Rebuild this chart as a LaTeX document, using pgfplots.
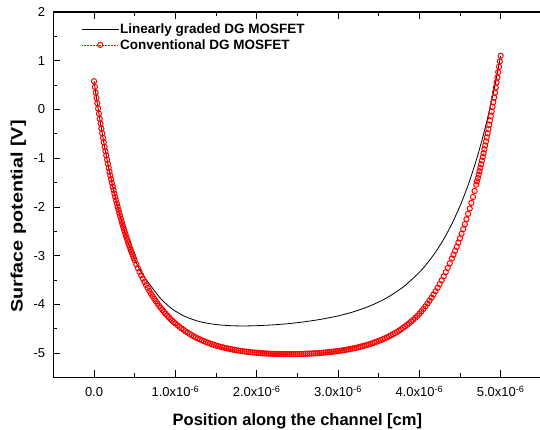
\documentclass[border=0pt]{standalone}
\usepackage{pgfplots}
\pgfplotsset{compat=1.18}
\usepackage{fontspec}
\setmainfont{Liberation Sans}
\begin{document}
\begin{tikzpicture}
\begin{axis}[
  scale only axis,
  width=487.9pt, height=365.5pt,
  xmin=-0.5, xmax=5.5, ymin=-5.5, ymax=2,
  axis line style={line width=1.3pt},
  tick style={black, line width=0.8pt},
  tick align=inside,
  major tick length=7pt, minor tick length=4pt,
  xtick pos=both, ytick pos=left,
  xtick={0,1,2,3,4,5},
  xticklabels={0.0, 1.0x10\textsuperscript{-6}, 2.0x10\textsuperscript{-6}, 3.0x10\textsuperscript{-6}, 4.0x10\textsuperscript{-6}, 5.0x10\textsuperscript{-6}},
  minor x tick num=1,
  ytick={-5,-4,-3,-2,-1,0,1,2},
  yticklabels={-5,-4,-3,-2,-1,0,1,2},
  minor y tick num=1,
  xticklabel style={font=\fontsize{13}{13}\selectfont, anchor=base, inner sep=0pt, yshift=-19pt},
  yticklabel style={font=\fontsize{13}{13}\selectfont, anchor=east, inner sep=0pt, xshift=-8pt},
  every axis x label/.style={at={(axis description cs:0.5,-0.131)}, anchor=base, font=\bfseries\fontsize{16.5}{16.5}\selectfont},
  every axis y label/.style={at={(axis description cs:-0.0633,0.4405)}, anchor=base, rotate=90, font=\bfseries\fontsize{16.5}{16.5}\selectfont},
  xlabel={Position along the channel [cm]},
  ylabel={\scalebox{1.2}[1]{Surface potential [V]}},
  legend style={at={(axis description cs:0.058,0.972)}, anchor=north west, draw=none, fill=none, inner sep=0pt, row sep=1pt, font=\bfseries\fontsize{13.5}{13.5}\selectfont, nodes={inner sep=1.5pt}},
  legend cell align=left,
  legend image code/.code={\draw[mark repeat=2,mark phase=2,#1] plot coordinates {(0pt,0pt) (18pt,0pt) (36pt,0pt)};},
]
\addplot[black, line width=0.8pt, smooth] coordinates {
(0.00,0.580) (0.02,0.348) (0.04,0.126) (0.06,-0.087) (0.08,-0.292) (0.10,-0.488)
(0.12,-0.676) (0.14,-0.857) (0.16,-1.030) (0.18,-1.196) (0.20,-1.356) (0.22,-1.508)
(0.24,-1.655) (0.26,-1.795) (0.28,-1.930) (0.30,-2.060) (0.32,-2.184) (0.34,-2.303)
(0.36,-2.417) (0.38,-2.526) (0.40,-2.631) (0.42,-2.732) (0.44,-2.829) (0.45,-2.876)
(0.50,-3.081) (0.55,-3.248) (0.60,-3.390) (0.65,-3.513) (0.70,-3.624) (0.75,-3.736)
(0.80,-3.843) (0.85,-3.935) (0.90,-4.010) (0.95,-4.080) (1.00,-4.138) (1.10,-4.233)
(1.20,-4.302) (1.30,-4.353) (1.40,-4.389) (1.50,-4.413) (1.60,-4.429) (1.70,-4.438)
(1.80,-4.442) (1.90,-4.441) (2.00,-4.437) (2.20,-4.420) (2.40,-4.393) (2.60,-4.354)
(2.80,-4.303) (3.00,-4.236) (3.20,-4.147) (3.40,-4.027) (3.60,-3.865) (3.80,-3.645)
(4.00,-3.342) (4.10,-3.150) (4.20,-2.925) (4.30,-2.661) (4.40,-2.349) (4.50,-1.983)
(4.55,-1.775) (4.60,-1.551) (4.65,-1.307) (4.70,-1.042) (4.75,-0.754) (4.80,-0.442)
(4.85,-0.103) (4.90,0.266) (4.95,0.666) (5.00,1.100)
};
\addlegendentry{Linearly graded DG MOSFET}
\addplot[red, densely dotted, line width=0.5pt, mark=o, mark size=2.6pt, mark options={solid, line width=1pt}] coordinates {
(0.00,0.580) (0.01,0.463) (0.02,0.348) (0.03,0.236) (0.04,0.126) (0.05,0.018)
(0.06,-0.087) (0.07,-0.191) (0.08,-0.292) (0.09,-0.391) (0.10,-0.488) (0.11,-0.583)
(0.12,-0.676) (0.13,-0.768) (0.14,-0.857) (0.15,-0.944) (0.16,-1.030) (0.17,-1.114)
(0.18,-1.196) (0.19,-1.277) (0.20,-1.356) (0.21,-1.433) (0.22,-1.508) (0.23,-1.582)
(0.24,-1.655) (0.25,-1.726) (0.26,-1.795) (0.27,-1.864) (0.28,-1.930) (0.29,-1.996)
(0.30,-2.060) (0.31,-2.122) (0.32,-2.184) (0.33,-2.244) (0.34,-2.303) (0.35,-2.360)
(0.36,-2.417) (0.37,-2.472) (0.38,-2.526) (0.39,-2.580) (0.40,-2.631) (0.41,-2.682)
(0.42,-2.732) (0.43,-2.781) (0.44,-2.829) (0.45,-2.876) (0.46,-2.922) (0.47,-2.966)
(0.48,-3.010) (0.49,-3.054) (0.50,-3.096) (0.52,-3.178) (0.54,-3.256) (0.56,-3.331)
(0.58,-3.403) (0.60,-3.473) (0.62,-3.539) (0.64,-3.603) (0.66,-3.664) (0.68,-3.722)
(0.70,-3.779) (0.72,-3.833) (0.74,-3.884) (0.76,-3.934) (0.78,-3.982) (0.80,-4.027)
(0.82,-4.071) (0.84,-4.113) (0.86,-4.153) (0.88,-4.192) (0.90,-4.229) (0.92,-4.264)
(0.94,-4.299) (0.96,-4.331) (0.98,-4.363) (1.000,-4.390) (1.025,-4.426) (1.050,-4.460)
(1.075,-4.491) (1.100,-4.522) (1.125,-4.551) (1.150,-4.579) (1.175,-4.605) (1.200,-4.630)
(1.225,-4.653) (1.250,-4.675) (1.275,-4.696) (1.300,-4.716) (1.325,-4.735) (1.350,-4.753)
(1.375,-4.770) (1.400,-4.787) (1.425,-4.802) (1.450,-4.816) (1.475,-4.830) (1.500,-4.843)
(1.525,-4.855) (1.550,-4.867) (1.575,-4.878) (1.600,-4.888) (1.625,-4.898) (1.650,-4.907)
(1.675,-4.916) (1.700,-4.925) (1.725,-4.933) (1.750,-4.940) (1.775,-4.947) (1.800,-4.953)
(1.825,-4.959) (1.850,-4.965) (1.875,-4.971) (1.900,-4.976) (1.925,-4.981) (1.950,-4.985)
(1.975,-4.989) (2.000,-4.993) (2.025,-4.996) (2.050,-4.999) (2.075,-5.002) (2.100,-5.005)
(2.125,-5.008) (2.150,-5.010) (2.175,-5.012) (2.200,-5.014) (2.225,-5.015) (2.250,-5.016)
(2.275,-5.017) (2.300,-5.018) (2.325,-5.019) (2.350,-5.020) (2.375,-5.020) (2.400,-5.020)
(2.425,-5.020) (2.450,-5.020) (2.475,-5.019) (2.500,-5.018) (2.525,-5.017) (2.550,-5.016)
(2.575,-5.015) (2.600,-5.013) (2.625,-5.012) (2.650,-5.010) (2.675,-5.008) (2.700,-5.005)
(2.725,-5.003) (2.750,-5.000) (2.775,-4.997) (2.800,-4.993) (2.825,-4.990) (2.850,-4.986)
(2.875,-4.982) (2.900,-4.977) (2.925,-4.973) (2.950,-4.968) (2.975,-4.963) (3.000,-4.957)
(3.025,-4.951) (3.050,-4.944) (3.075,-4.938) (3.100,-4.931) (3.125,-4.923) (3.150,-4.915)
(3.175,-4.907) (3.200,-4.898) (3.225,-4.889) (3.250,-4.879) (3.275,-4.869) (3.300,-4.858)
(3.325,-4.847) (3.350,-4.835) (3.375,-4.823) (3.400,-4.810) (3.425,-4.796) (3.450,-4.781)
(3.475,-4.766) (3.500,-4.750) (3.525,-4.733) (3.550,-4.715) (3.575,-4.697) (3.600,-4.677)
(3.625,-4.657) (3.650,-4.635) (3.675,-4.613) (3.700,-4.589) (3.725,-4.565) (3.750,-4.538)
(3.775,-4.511) (3.800,-4.481) (3.825,-4.452) (3.850,-4.419) (3.875,-4.387) (3.900,-4.351)
(3.925,-4.316) (3.950,-4.276) (3.975,-4.237) (4.000,-4.193) (4.025,-4.144) (4.050,-4.093)
(4.075,-4.039) (4.100,-3.982) (4.125,-3.924) (4.150,-3.862) (4.175,-3.797) (4.200,-3.729)
(4.225,-3.658) (4.250,-3.583) (4.275,-3.505) (4.300,-3.424) (4.325,-3.338) (4.350,-3.249)
(4.375,-3.156) (4.40,-3.058) (4.42,-2.981) (4.44,-2.901) (4.46,-2.818) (4.48,-2.732)
(4.50,-2.643) (4.52,-2.550) (4.54,-2.454) (4.56,-2.354) (4.58,-2.251) (4.60,-2.143)
(4.62,-2.032) (4.64,-1.916) (4.66,-1.796) (4.68,-1.671) (4.70,-1.542) (4.71,-1.475)
(4.72,-1.408) (4.73,-1.339) (4.74,-1.268) (4.75,-1.197) (4.76,-1.124) (4.77,-1.049)
(4.78,-0.974) (4.79,-0.897) (4.80,-0.818) (4.81,-0.738) (4.82,-0.657) (4.83,-0.574)
(4.84,-0.489) (4.85,-0.403) (4.86,-0.315) (4.87,-0.226) (4.88,-0.135) (4.89,-0.042)
(4.90,0.053) (4.91,0.149) (4.92,0.247) (4.93,0.347) (4.94,0.449) (4.95,0.553)
(4.96,0.658) (4.97,0.766) (4.98,0.876) (4.99,0.987) (5.00,1.101)
};
\addlegendentry{Conventional DG MOSFET}
\end{axis}
\pgfresetboundingbox
\path[use as bounding box] (-53.4pt,-52.5pt) rectangle (486.6pt,377.5pt);
\end{tikzpicture}
\end{document}
